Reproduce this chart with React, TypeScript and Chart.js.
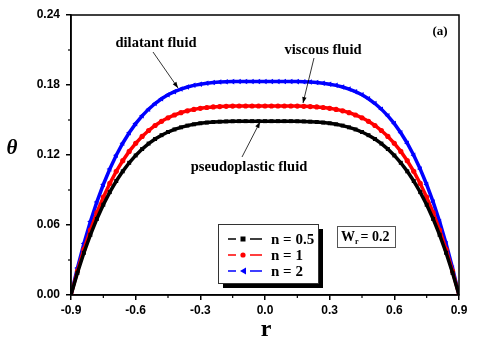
import React, { useEffect, useRef } from "react";
import { Chart, registerables } from "chart.js";

Chart.register(...registerables);

const rValues = [
  -0.9, -0.87, -0.84, -0.81, -0.78, -0.75, -0.72, -0.69, -0.66, -0.63, -0.6,
  -0.57, -0.54, -0.51, -0.48, -0.45, -0.42, -0.39, -0.36, -0.33, -0.3, -0.27,
  -0.24, -0.21, -0.18, -0.15, -0.12, -0.09, -0.06, -0.03, 0.0, 0.03, 0.06,
  0.09, 0.12, 0.15, 0.18, 0.21, 0.24, 0.27, 0.3, 0.33, 0.36, 0.39, 0.42, 0.45,
  0.48, 0.51, 0.54, 0.57, 0.6, 0.63, 0.66, 0.69, 0.72, 0.75, 0.78, 0.81, 0.84,
  0.87, 0.9,
];

const thetaN05 = [
  0, 0.019, 0.0362, 0.0516, 0.0652, 0.0774, 0.0882, 0.0977, 0.1060, 0.1133,
  0.1196, 0.1251, 0.1298, 0.1337, 0.1370, 0.1397, 0.1419, 0.1437, 0.1452,
  0.1463, 0.1472, 0.1478, 0.1483, 0.1486, 0.1488, 0.1489, 0.149, 0.149, 0.149,
  0.149, 0.149, 0.149, 0.149, 0.149, 0.149, 0.1489, 0.1488, 0.1486, 0.1483,
  0.1478, 0.1472, 0.1463, 0.1452, 0.1437, 0.1419, 0.1397, 0.1370, 0.1337,
  0.1298, 0.1251, 0.1196, 0.1133, 0.1060, 0.0977, 0.0882, 0.0774, 0.0652,
  0.0516, 0.0362, 0.019, 0,
];

const thetaN1 = [
  0, 0.0205, 0.0391, 0.0557, 0.0706, 0.0839, 0.0956, 0.106, 0.1151, 0.1231,
  0.13, 0.1359, 0.141, 0.1453, 0.1489, 0.1519, 0.1543, 0.1563, 0.1579, 0.1591,
  0.16, 0.1607, 0.1612, 0.1615, 0.1617, 0.1619, 0.162, 0.162, 0.162, 0.162,
  0.162, 0.162, 0.162, 0.162, 0.162, 0.1619, 0.1617, 0.1615, 0.1612, 0.1607,
  0.16, 0.1591, 0.1579, 0.1563, 0.1543, 0.1519, 0.1489, 0.1453, 0.141, 0.1359,
  0.13, 0.1231, 0.1151, 0.106, 0.0956, 0.0839, 0.0706, 0.0557, 0.0391,
  0.0205, 0,
];

const thetaN2 = [
  0, 0.0232, 0.0441, 0.0629, 0.0798, 0.0947, 0.108, 0.1198, 0.1301, 0.1391,
  0.1469, 0.1536, 0.1593, 0.1641, 0.1682, 0.1716, 0.1743, 0.1765, 0.1783,
  0.1797, 0.1807, 0.1815, 0.1821, 0.1825, 0.1827, 0.1829, 0.183, 0.183, 0.183,
  0.183, 0.183, 0.183, 0.183, 0.183, 0.183, 0.1829, 0.1827, 0.1825, 0.1821,
  0.1815, 0.1807, 0.1797, 0.1783, 0.1765, 0.1743, 0.1716, 0.1682, 0.1641,
  0.1593, 0.1536, 0.1469, 0.1391, 0.1301, 0.1198, 0.108, 0.0947, 0.0798,
  0.0629, 0.0441, 0.0232, 0,
];

const seriesLabels = ["n = 0.5", "n = 1", "n = 2"];
const xMajorTicks = [-0.9, -0.6, -0.3, 0.0, 0.3, 0.6, 0.9];
const yMajorTicks = [0.0, 0.06, 0.12, 0.18, 0.24];
const wrLabel = "0.2";

const BLACK = "#000000";
const RED = "#ff0000";
const BLUE = "#0000ff";
const SERIF = "'Liberation Serif', 'DejaVu Serif', serif";
const SANS = "'Liberation Sans', Arial, sans-serif";

function arrow(ctx: CanvasRenderingContext2D, x1: number, y1: number, x2: number, y2: number) {
  ctx.save();
  ctx.strokeStyle = "#000";
  ctx.fillStyle = "#000";
  ctx.lineWidth = 0.8;
  ctx.beginPath();
  ctx.moveTo(x1, y1);
  ctx.lineTo(x2, y2);
  ctx.stroke();
  const a = Math.atan2(y2 - y1, x2 - x1);
  const L = 6;
  const w = 2.2;
  ctx.beginPath();
  ctx.moveTo(x2, y2);
  ctx.lineTo(x2 - L * Math.cos(a) + w * Math.sin(a), y2 - L * Math.sin(a) - w * Math.cos(a));
  ctx.lineTo(x2 - L * Math.cos(a) - w * Math.sin(a), y2 - L * Math.sin(a) + w * Math.cos(a));
  ctx.closePath();
  ctx.fill();
  ctx.restore();
}

const decorPlugin = {
  id: "decor",
  afterDraw(chart: any) {
    const { ctx, chartArea, scales } = chart;
    const xs = scales.x;
    const ys = scales.y;
    ctx.save();
    // frame
    ctx.strokeStyle = "#000";
    ctx.lineWidth = 1.5;
    ctx.strokeRect(chartArea.left, chartArea.top, chartArea.right - chartArea.left, chartArea.bottom - chartArea.top);

    // minor ticks
    ctx.lineWidth = 1.2;
    for (let i = 0; i < yMajorTicks.length - 1; i++) {
      const v = (yMajorTicks[i] + yMajorTicks[i + 1]) / 2;
      const py = ys.getPixelForValue(v);
      ctx.beginPath();
      ctx.moveTo(chartArea.left - 3, py);
      ctx.lineTo(chartArea.left, py);
      ctx.stroke();
    }
    for (let i = 0; i < xMajorTicks.length - 1; i++) {
      const v = (xMajorTicks[i] + xMajorTicks[i + 1]) / 2;
      const px = xs.getPixelForValue(v);
      ctx.beginPath();
      ctx.moveTo(px, chartArea.bottom);
      ctx.lineTo(px, chartArea.bottom + 3);
      ctx.stroke();
    }

    // axis titles
    ctx.fillStyle = "#000";
    ctx.textAlign = "center";
    ctx.textBaseline = "middle";
    ctx.font = `italic bold 21px ${SERIF}`;
    ctx.fillText("θ", 12, 149);
    ctx.font = `bold 24px ${SERIF}`;
    ctx.fillText("r", 266, 330);

    // annotations
    ctx.font = `bold 14.5px ${SERIF}`;
    ctx.fillText("dilatant fluid", 156, 43);
    ctx.fillText("viscous fluid", 323, 50);
    ctx.fillText("pseudoplastic fluid", 249, 167);
    ctx.font = `bold 13px ${SERIF}`;
    ctx.fillText("(a)", 440, 32);
    arrow(ctx, 153, 52, 178, 88);
    arrow(ctx, 314, 58, 303, 103);
    arrow(ctx, 242, 157, 260, 122);

    // W box
    ctx.fillStyle = "#fff";
    ctx.fillRect(337, 226, 58, 21);
    ctx.strokeStyle = "#555";
    ctx.lineWidth = 1;
    ctx.strokeRect(337.5, 226.5, 58, 21);
    ctx.fillStyle = "#000";
    ctx.textAlign = "left";
    ctx.font = `bold 14px ${SERIF}`;
    ctx.fillText("W", 341, 237);
    const wW = ctx.measureText("W").width;
    ctx.font = `bold 8px ${SERIF}`;
    ctx.fillText("r", 341 + wW, 242);
    ctx.font = `bold 14px ${SERIF}`;
    ctx.fillText(" = " + wrLabel, 341 + wW + 2, 237);

    // legend box with shadow
    const lx = 218, ly = 224, lw = 100, lh = 59;
    ctx.fillStyle = "#000";
    ctx.fillRect(lx + 5, ly + 5, lw, lh);
    ctx.fillStyle = "#fff";
    ctx.fillRect(lx, ly, lw, lh);
    ctx.strokeStyle = "#333";
    ctx.lineWidth = 1;
    ctx.strokeRect(lx + 0.5, ly + 0.5, lw, lh);
    const colors = [BLACK, RED, BLUE];
    const ys0 = [239, 255, 271];
    for (let i = 0; i < 3; i++) {
      const yy = ys0[i];
      ctx.strokeStyle = colors[i];
      ctx.lineWidth = 1.5;
      ctx.beginPath();
      ctx.moveTo(228, yy);
      ctx.lineTo(236, yy);
      ctx.moveTo(250, yy);
      ctx.lineTo(262, yy);
      ctx.stroke();
      ctx.fillStyle = colors[i];
      if (i === 0) {
        ctx.fillRect(240.5, yy - 2.5, 5, 5);
      } else if (i === 1) {
        ctx.beginPath();
        ctx.arc(243, yy, 2.6, 0, Math.PI * 2);
        ctx.fill();
      } else {
        ctx.beginPath();
        ctx.moveTo(240, yy);
        ctx.lineTo(246, yy - 3.5);
        ctx.lineTo(246, yy + 3.5);
        ctx.closePath();
        ctx.fill();
      }
      ctx.fillStyle = "#000";
      ctx.textAlign = "left";
      ctx.font = `bold 15px ${SERIF}`;
      ctx.fillText(seriesLabels[i], 271, yy + 1);
    }
    ctx.restore();
  },
};

export default function App() {
  const canvasRef = useRef<HTMLCanvasElement | null>(null);

  useEffect(() => {
    const canvas = canvasRef.current;
    if (!canvas) return;
    const mk = (vals: number[]) => rValues.map((r, i) => ({ x: r, y: vals[i] }));
    const chart = new Chart(canvas, {
      type: "line",
      data: {
        datasets: [
          {
            label: seriesLabels[0],
            data: mk(thetaN05),
            borderColor: BLACK,
            backgroundColor: BLACK,
            borderWidth: 3.5,
            pointStyle: "rect",
            pointRadius: 2.8,
            pointBorderWidth: 0,
          },
          {
            label: seriesLabels[1],
            data: mk(thetaN1),
            borderColor: RED,
            backgroundColor: RED,
            borderWidth: 3.5,
            pointStyle: "circle",
            pointRadius: 2.6,
            pointBorderWidth: 0,
          },
          {
            label: seriesLabels[2],
            data: mk(thetaN2),
            borderColor: BLUE,
            backgroundColor: BLUE,
            borderWidth: 3.5,
            pointStyle: "triangle",
            pointRotation: -90,
            pointRadius: 3.2,
            pointBorderWidth: 0,
          },
        ],
      },
      options: {
        responsive: false,
        animation: false,
        devicePixelRatio: 1,
        layout: { padding: { top: 15, right: 21, left: 0, bottom: 0 } },
        plugins: { legend: { display: false }, tooltip: { enabled: false } },
        scales: {
          x: {
            type: "linear",
            min: -0.9,
            max: 0.9,
            afterBuildTicks: (s: any) => {
              s.ticks = xMajorTicks.map((v) => ({ value: v }));
            },
            afterFit: (s: any) => {
              s.height = 52;
            },
            ticks: {
              color: "#000",
              padding: 3,
              maxRotation: 0,
              autoSkip: false,
              font: { family: SANS, size: 12, weight: "bold" },
              callback: (v: any) => Number(v).toFixed(1),
            },
            grid: { drawOnChartArea: false, drawTicks: true, tickLength: 5, color: "#000", lineWidth: 1.5 },
            border: { display: true, color: "#000", width: 1.5 },
          },
          y: {
            type: "linear",
            min: 0,
            max: 0.24,
            afterBuildTicks: (s: any) => {
              s.ticks = yMajorTicks.map((v) => ({ value: v }));
            },
            afterFit: (s: any) => {
              s.width = 71;
            },
            ticks: {
              color: "#000",
              padding: 6,
              autoSkip: false,
              font: { family: SANS, size: 12, weight: "bold" },
              callback: (v: any) => Number(v).toFixed(2),
            },
            grid: { drawOnChartArea: false, drawTicks: true, tickLength: 5, color: "#000", lineWidth: 1.5 },
            border: { display: true, color: "#000", width: 1.5 },
          },
        },
      },
      plugins: [decorPlugin],
    });
    return () => chart.destroy();
  }, []);

  return (
    <div style={{ position: "absolute", left: 0, top: 0, width: 480, height: 347, background: "#fff" }}>
      <canvas ref={canvasRef} width={480} height={347} />
    </div>
  );
}
